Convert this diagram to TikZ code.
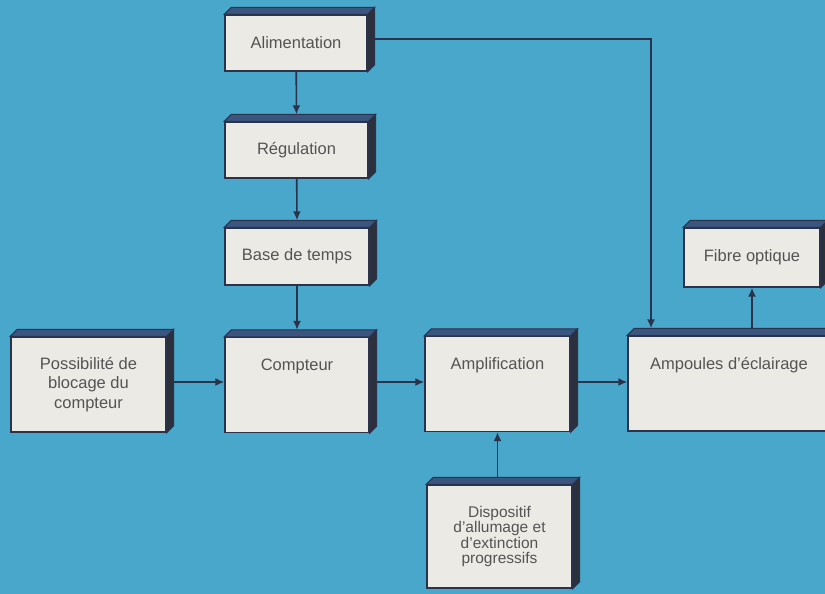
\documentclass[tikz,border=0pt]{standalone}
\usepackage{fontspec}
\setmainfont{Liberation Sans}
\definecolor{FondBleu}{RGB}{72,167,202}
\definecolor{FaceCreme}{RGB}{236,234,228}
\definecolor{DessusBleu}{RGB}{58,86,128}
\definecolor{CoteSombre}{RGB}{44,47,60}
\definecolor{TraitSombre}{RGB}{42,50,76}
\definecolor{TexteGris}{RGB}{84,84,84}
\usetikzlibrary{
    arrows.meta,
    positioning,
    calc,
}

\begin{document}
\begin{tikzpicture}[x=1pt, y=-1pt,
    boite/.style={draw=TraitSombre, line width=1.4pt, fill=FaceCreme, inner sep=0pt,
        text=TexteGris, font=\fontsize{16.5}{19.5}\selectfont, align=center},
    haute/.style={text height=33pt, text depth=62pt},
    fleche/.style={draw=TraitSombre, line width=1.6pt, -{Latex[length=9pt,width=8pt]}},
    dessus/.style={fill=DessusBleu, draw=TraitSombre, line width=1pt},
    cote/.style={fill=CoteSombre, draw=TraitSombre, line width=1pt},
]
        \clip (0,0) rectangle (825,594);
        \fill[FondBleu] (0,0) rectangle (825,594);

        \node[boite, minimum width=142pt, minimum height=56pt] (alim) at (296,43) {Alimentation};
        \node[boite, minimum width=143pt, minimum height=56pt] (regul) at (296.5,150) {Régulation};
        \node[boite, minimum width=144pt, minimum height=57pt] (base) at (297,256.5) {Base de temps};
        \node[boite, haute, minimum width=144pt] (compteur) at (297,385) {Compteur};
        \node[boite, minimum width=155pt, minimum height=95pt] (poss) at (88.5,384.5) {Possibilité de\\blocage du\\compteur};
        \node[boite, haute, minimum width=145pt] (ampli) at (497.5,384) {Amplification};
        \node[boite, haute, minimum width=202pt] (ampoules) at (729,383.5) {Ampoules d’éclairage};
        \node[boite, minimum width=136pt, minimum height=59pt] (fibre) at (752,257.5) {Fibre optique};
        \node[boite, minimum width=145pt, minimum height=103pt, font=\fontsize{15.5}{15.5}\selectfont]
            (disp) at (499.5,536.5) {Dispositif\\d’allumage et\\d’extinction\\progressifs};

        \coordinate (coude) at (651,39);
        \coordinate (niveau) at (0,382);
        \draw[fleche] (alim) -- ($(regul.north)+(0,-7)$);
        \draw[fleche] (regul) -- ($(base.north)+(0,-7)$);
        \draw[fleche] (base) -- ($(compteur.north)+(0,-7)$);
        \draw[fleche] (alim.east |- coude) -- (coude) -- ($(coude |- ampoules.north)+(0,-7)$);
        \draw[fleche] (poss.east |- niveau) -- (compteur.west |- niveau);
        \draw[fleche] (compteur.east |- niveau) -- (ampli.west |- niveau);
        \draw[fleche] (ampli.east |- niveau) -- (ampoules.west |- niveau);
        \draw[fleche] (ampli.south |- disp.north) -- (ampli.south);
        \draw[fleche] (fibre.south |- ampoules.north) -- (fibre.south);

        \foreach \n in {alim,regul,base,compteur,poss,ampli,ampoules,fibre,disp} {
            \filldraw[dessus] (\n.north west) -- ++(7,-7) -- ($(\n.north east)+(7,-7)$) -- (\n.north east) -- cycle;
            \filldraw[cote] (\n.north east) -- ++(7,-7) -- ($(\n.south east)+(7,-7)$) -- (\n.south east) -- cycle;
        }
    \end{tikzpicture}
\end{document}
